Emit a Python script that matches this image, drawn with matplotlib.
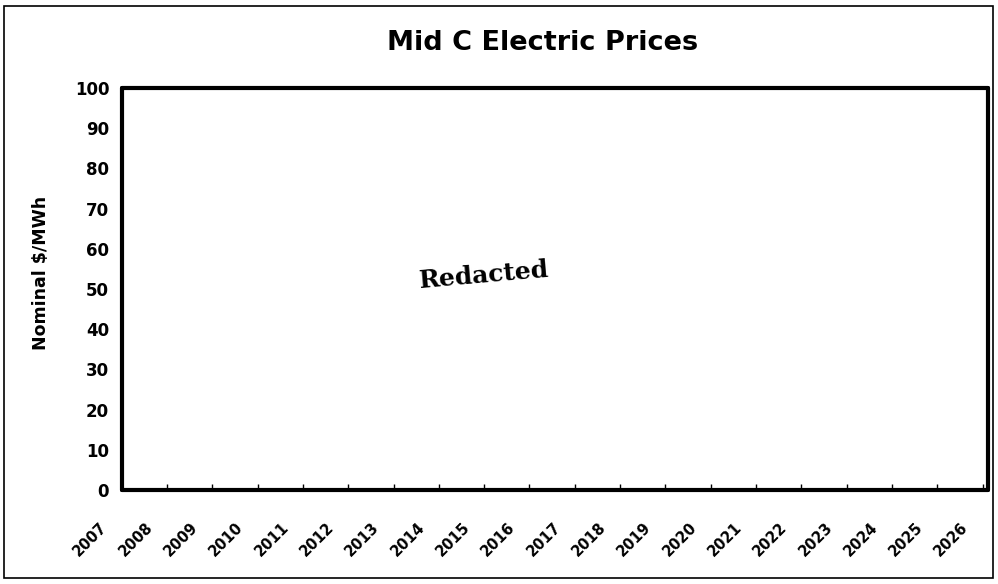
import matplotlib.pyplot as plt
from matplotlib.patches import Rectangle
from matplotlib.transforms import ScaledTranslation

years = [str(y) for y in range(2007, 2027)]
y_ticks = list(range(0, 101, 10))
title = "Mid C Electric Prices"
y_label = "Nominal $/MWh"

plt.rcParams['font.family'] = ['DejaVu Sans']

fig = plt.figure(figsize=(9.98, 5.84), dpi=100)
ax = fig.add_axes([121.7 / 998, 1 - 490 / 584, (988 - 121.7) / 998, (490 - 88) / 584])

ax.set_xlim(0, len(years) - 1 + 0.12)
ax.set_ylim(0, 100)
ax.set_xticks(range(len(years)))
ax.set_xticklabels(years, rotation=45, ha='right', rotation_mode='anchor',
                   fontsize=10.5, fontweight='bold')
ax.set_yticks(y_ticks)
ax.set_yticklabels([str(v) for v in y_ticks], fontsize=12, fontweight='bold')
ax.tick_params(axis='x', direction='in', length=4, width=1, pad=6)
ax.tick_params(axis='y', length=0, pad=9)

# shift rotated year labels down-left, like the original
shift = ScaledTranslation(-22 / 100, -21 / 100, fig.dpi_scale_trans)
for lab in ax.get_xticklabels():
    lab.set_transform(lab.get_transform() + shift)

for s in ax.spines.values():
    s.set_linewidth(3)
    s.set_color('black')
    s.set_capstyle('round')

ax.set_ylabel(y_label, fontsize=12.5, fontweight='bold')
ax.yaxis.set_label_coords(-0.083, 0.54)
fig.text(0.544, 1 - 43 / 584, title, ha='center', va='center',
         fontsize=19.5, fontweight='bold')

ax.text(0.418, 0.535, "Redacted", transform=ax.transAxes, ha='center', va='center',
        rotation=5, fontsize=18, fontweight='bold', family=['DejaVu Serif'])

# outer frame
fig.patches.append(Rectangle((4 / 998, 6 / 584), 989 / 998, 572 / 584,
                             transform=fig.transFigure, fill=False,
                             edgecolor='black', linewidth=1.2))

fig.savefig('out.png', dpi=100)
